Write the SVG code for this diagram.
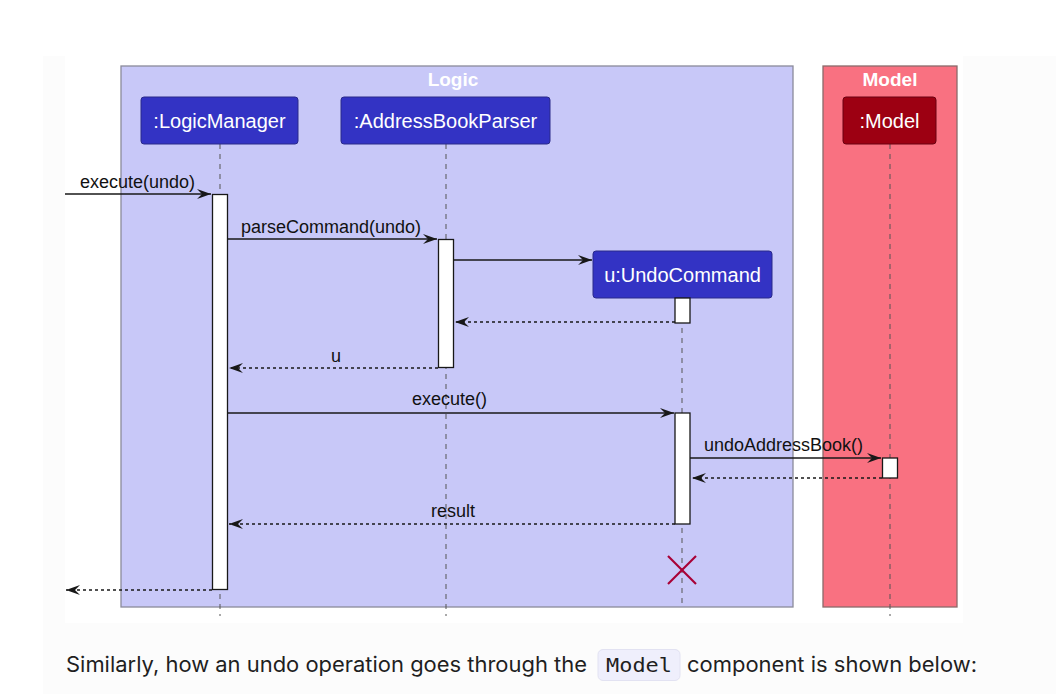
<svg xmlns="http://www.w3.org/2000/svg" width="1056" height="694" viewBox="0 0 1056 694">
<defs>
<style>
.part{stroke:#2a2a8a;stroke-width:1}
.ptxt{font-family:"Liberation Sans",Arial,sans-serif;font-size:20px;fill:#ffffff;text-anchor:middle}
.title{font-family:"Liberation Sans",Arial,sans-serif;font-size:19px;font-weight:bold;fill:#ffffff;text-anchor:middle}
.life{stroke:#555;stroke-width:1;stroke-dasharray:5,5}
.act{fill:#ffffff;stroke:#181818;stroke-width:1.3}
.msg{stroke:#181818;stroke-width:1.3;fill:none}
.ret{stroke:#181818;stroke-width:1.3;fill:none;stroke-dasharray:3,3}
.mtxt{font-family:"Liberation Sans",Arial,sans-serif;font-size:18px;fill:#111}
</style>
<marker id="ah" viewBox="0 0 14 10" refX="14" refY="5" markerWidth="14" markerHeight="10" markerUnits="userSpaceOnUse" orient="auto">
<polygon points="0,0 14,5 0,10 5,5" fill="#181818"/>
</marker>
</defs>
<rect width="1056" height="694" fill="#ffffff"/>
<rect x="43" y="56" width="1013" height="638" fill="#fcfcfc"/>
<rect x="65" y="56" width="898" height="567" fill="#ffffff"/>

<g id="logic-box">
<rect x="121" y="66" width="672" height="541" fill="#c8c8f8" stroke="#8a8a9a" stroke-width="1.3"/>
<text class="title" x="453" y="86">Logic</text>
</g>
<g id="model-box">
<rect x="823" y="66" width="134" height="541" fill="#f97181" stroke="#8a6a6a" stroke-width="1.3"/>
<text class="title" x="890" y="86">Model</text>
</g>

<g id="lifelines">
<line class="life" x1="220" y1="144" x2="220" y2="616"/>
<line class="life" x1="446" y1="144" x2="446" y2="616"/>
<line class="life" x1="682" y1="298" x2="682" y2="608"/>
<line class="life" x1="890" y1="144" x2="890" y2="616"/>
</g>

<g id="LogicManager">
<rect class="part" x="141" y="97" width="157" height="47" rx="3" fill="#3333c4"/>
<text class="ptxt" x="219.5" y="128">:LogicManager</text>
</g>
<g id="AddressBookParser">
<rect class="part" x="341" y="97" width="209" height="47" rx="3" fill="#3333c4"/>
<text class="ptxt" x="445.5" y="128">:AddressBookParser</text>
</g>
<g id="UndoCommand">
<rect class="part" x="593" y="251" width="179" height="47" rx="3" fill="#3333c4"/>
<text class="ptxt" x="682.5" y="282">u:UndoCommand</text>
</g>
<g id="Model">
<rect x="843" y="97" width="93" height="47" rx="3" fill="#9d0012" stroke="#6a0010" stroke-width="1"/>
<text class="ptxt" x="889.5" y="128">:Model</text>
</g>

<g id="activations">
<rect class="act" x="212.5" y="194.5" width="15" height="395"/>
<rect class="act" x="438.5" y="239.5" width="15" height="128"/>
<rect class="act" x="675" y="298" width="15" height="25"/>
<rect class="act" x="675" y="413" width="15" height="111"/>
<rect class="act" x="882.5" y="458" width="15" height="20"/>
</g>

<g id="connectors">
<line class="msg" x1="65" y1="194" x2="211" y2="194" marker-end="url(#ah)"/>
<text class="mtxt" x="80" y="188">execute(undo)</text>
<line class="msg" x1="228" y1="239" x2="437" y2="239" marker-end="url(#ah)"/>
<text class="mtxt" x="241" y="233">parseCommand(undo)</text>
<line class="msg" x1="454" y1="260" x2="592" y2="260" marker-end="url(#ah)"/>
<line class="ret" x1="675" y1="322" x2="455" y2="322" marker-end="url(#ah)"/>
<line class="ret" x1="438" y1="368" x2="229" y2="368" marker-end="url(#ah)"/>
<text class="mtxt" x="331" y="362">u</text>
<line class="msg" x1="228" y1="413" x2="674" y2="413" marker-end="url(#ah)"/>
<text class="mtxt" x="412" y="405">execute()</text>
<line class="msg" x1="690" y1="458" x2="881" y2="458" marker-end="url(#ah)"/>
<text class="mtxt" x="704" y="451">undoAddressBook()</text>
<line class="ret" x1="882" y1="478" x2="692" y2="478" marker-end="url(#ah)"/>
<line class="ret" x1="675" y1="524" x2="229" y2="524" marker-end="url(#ah)"/>
<text class="mtxt" x="431" y="517">result</text>
<line class="ret" x1="212" y1="590" x2="66" y2="590" marker-end="url(#ah)"/>
</g>

<g id="destroy" stroke="#a80036" stroke-width="2.2">
<line x1="668" y1="556" x2="696" y2="584"/>
<line x1="696" y1="556" x2="668" y2="584"/>
</g>

<g id="caption">
<rect x="598" y="649.5" width="82" height="31" rx="5" fill="#efeffc" stroke="#e2e2f2" stroke-width="1"/>
<text x="66" y="672" font-family="Inter,'Liberation Sans',sans-serif" font-size="21" fill="#1f1f1f" textLength="521" lengthAdjust="spacingAndGlyphs">Similarly, how an undo operation goes through the</text>
<text x="606" y="672" font-family="'DejaVu Sans Mono','Liberation Mono',monospace" font-size="20" fill="#1f1f1f" textLength="66" lengthAdjust="spacingAndGlyphs">Model</text>
<text x="687" y="672" font-family="Inter,'Liberation Sans',sans-serif" font-size="21" fill="#1f1f1f" textLength="290" lengthAdjust="spacingAndGlyphs">component is shown below:</text>
</g>
</svg>
